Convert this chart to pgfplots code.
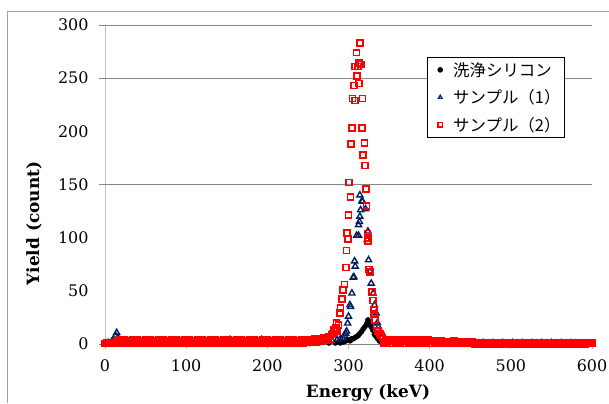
\documentclass[border=0pt]{standalone}
\usepackage{pgfplots}
\pgfplotsset{compat=1.18}
\usepackage{fontspec}
\setmainfont{DejaVu Serif}
\newfontfamily\cjk{Noto Sans CJK JP}
\definecolor{navy}{RGB}{0,32,96}
\definecolor{gridcol}{RGB}{134,134,134}
\definecolor{axiscol}{RGB}{190,190,190}
\definecolor{framecol}{RGB}{160,160,160}
\begin{document}
\begin{tikzpicture}
\begin{axis}[
  scale only axis, width=487bp, height=319bp,
  xmin=0, xmax=600, ymin=0, ymax=300,
  axis x line*=bottom, axis y line*=left,
  axis line style={axiscol, line width=0.8bp},
  xtick={0,100,...,600}, ytick={0,50,...,300},
  tick align=outside, major tick length=5bp,
  xtick style={axiscol, line width=0.8bp},
  ytick style={draw=none},
  extra y ticks={0,150,250,300}, extra y tick labels={},
  extra y tick style={grid=major, major grid style={gridcol, line width=1bp},
    ytick style={draw=gridcol, line width=1bp}, major tick length=6bp},
  /pgf/number format/assume math mode=true,
  tick label style={font=\fontsize{16}{19}\selectfont},
  xticklabel style={yshift=-7bp},
  yticklabel style={xshift=-8bp},
  xlabel={\bfseries Energy (keV)},
  ylabel={\bfseries Yield (count)},
  label style={font=\fontsize{17}{20}\selectfont},
  xlabel style={at={(axis description cs:0.54,-0.169)}, anchor=base},
  ylabel style={at={(axis description cs:-0.146,0.378)}, anchor=center},
  legend style={at={(axis description cs:0.661,0.900)}, anchor=north west,
    draw=black, line width=0.6bp, fill=white,
    font=\cjk\fontsize{16.5}{20}\selectfont, row sep=8bp,
    inner xsep=2bp, inner ysep=3bp, cells={anchor=west}},
  legend image code/.code={\path[draw=none, fill=none] (0bp,-4bp) rectangle (22bp,4bp);
    \draw[#1, mark size=2.2pt, line width=1.2bp] plot coordinates {(11bp,0bp)};},
]
\coordinate (sw) at (rel axis cs:0,0);
\coordinate (nw) at (rel axis cs:0,1);
\coordinate (ne) at (rel axis cs:1,1);

% cleaned silicon
\addplot[only marks, mark=*, mark size=2.6pt, black] coordinates {
(0,0)(12,1)(24,1)(36,0.5)(48,1)(60,1)(72,0.5)(84,1)(96,1)(108,0.5)(120,1)(132,1)
(144,0.5)(156,1)(168,1)(180,0.5)(192,1)(204,1)(216,0.5)(228,1)(240,1)(252,0.5)
(264,1)(276,1)(284,1)
(290,1)(294,2)(297,3)(300,4)(302,3)(304,5)(306,5)(308,6)(310,7)(312,8)(314,10)
(316,11.6)(318,14)(320,16)(322,18)(323,20)(324,22.6)(325,21)(326,19)(327,18)
(328,16)(330,13)(332,9)(334,7)(336,5)(338,3)(340,2)
(348,1)(360,1)(372,0.5)(384,1)(396,1)(408,0.5)(420,1)(432,1)(444,0.5)(456,1)
(468,1)(480,0.5)(492,1)(504,0.5)(516,1)(528,0.5)(540,1)(552,0.5)(564,1)(576,0.5)
(588,1)(600,0.5)
};
\addlegendentry{洗浄シリコン}

% sample 1
\addplot[only marks, mark=triangle, mark size=3.5pt, navy, line width=1.4bp] coordinates {
(0,0.5)(4,1)(8,2)(11,4)(13,8)(14.4,10.6)(16,6)(18,3)(24,2)(30,3)(36,2)(42,3)
(48,2)(54,3)(60,2)(66,3)(72,2)(78,3)(84,2)(90,3)(96,2)(102,3)(108,2)
(114,3)(120,2)(126,3)(132,2)(138,3)(144,2)(150,3)(154,4)(156,3)(162,2)(168,3)
(174,2)(180,3)(186,2)(193,4)(198,2)(204,3)(210,2)(216,3)(222,2)(228,3)(234,2)
(240,3)(246,2)(252,3)(258,2)(264,3)(270,2)(276,3)(280,3)
(286,4)(290,5)(293,6)(295,8)(296.5,10)(297.6,12)(299,19.5)(300,26)(301.7,36.7)
(302.6,35)(304.2,47.7)(305.8,62.7)(306.7,63)(307.5,78)(308.3,73)(310,102)
(312.4,102)(312.4,112)(313.5,115)(314,120)(314.9,126)(314,140)(316.5,134.5)
(317.3,134)(321,127)(323,98)(323.9,106)(324.7,79)(326.4,68)(328,57)(330.4,47.7)
(332,36.7)(334,29)(335.5,20)(337,16)(338.7,10)(341,6)(344,4)(348,3)
(352,2)(358,2)(364,2)(370,2)(376,2)(382,2)(388,2)(394,2)(400,2)(406,2)(412,1)
(418,1)(424,1)(430,1)(436,1)(442,1)(448,1)(454,1)(460,0.5)(466,1)(472,0.5)(478,1)
(484,0.5)(490,1)(496,0.5)(502,1)(508,0.5)(514,1)(520,0.5)(526,1)(532,0.5)(538,1)
(544,0.5)(550,1)(556,0.5)(562,1)(568,0.5)(574,1)(580,0.5)(586,0.5)(592,0.5)(598,0.5)
};
\addlegendentry{サンプル（1）}

% sample 2
\addplot[only marks, mark=square, mark size=3pt, red, line width=1.7bp] coordinates {
(0,0.5)(2,1)(4,0.5)(6,1.5)(8,0.5)(10,1)
(12,1)(14,3)(16,2)(18,4)(20,0.5)(22,2.5)(24,3.5)(26,1.5)
(28,1)(30,3)(32,2)(34,4)(36,0.5)(38,2.5)(40,3.5)(42,1.5)
(44,1)(46,3)(48,2)(50,4)(52,0.5)(54,2.5)(56,3.5)(58,1.5)
(60,1)(62,3)(64,2)(66,4)(68,0.5)(70,2.5)(72,3.5)(74,1.5)
(76,1)(78,3)(80,2)(82,4)(84,0.5)(86,2.5)(88,3.5)(90,1.5)
(92,1)(94,3)(96,2)(98,4)(100,0.5)(102,2.5)(104,3.5)(106,1.5)
(108,1)(110,3)(112,2)(114,4)(116,0.5)(118,2.5)(120,3.5)(122,1.5)
(124,1)(126,3)(128,2)(130,4)(132,0.5)(134,2.5)(136,3.5)(138,1.5)
(140,1)(142,3)(144,2)(146,4)(148,0.5)(150,2.5)(152,3.5)(154,1.5)
(156,1)(158,3)(160,2)(162,4)(164,0.5)(166,2.5)(168,3.5)(170,1.5)
(172,1)(174,3)(176,2)(178,4)(180,0.5)(182,2.5)(184,3.5)(186,1.5)
(188,1)(190,3)(192,2)(194,4)(196,0.5)(198,2.5)(200,3.5)(202,1.5)
(204,1)(206,3)(208,2)(210,4)(212,0.5)(214,2.5)(216,3.5)(218,1.5)
(220,1)(222,3)(224,2)(226,4)(228,0.5)(230,2.5)(232,3.5)(234,1.5)
(236,1)(238,3)(240,2)(242,4)(244,0.5)(246,2.5)(248,3.5)(250,1.5)
(252,2)(254,4)(256,3)(258,5)(260,2)(262,4)(264,5)(266,3)(268,5)(270,6)(272,4)
(274,6)(276,7)(278,5)(280,9)(281,10)(282,13)(283,12)(284,15)(286,12)
(285.3,19.5)(287.8,17.6)(289.4,29)(290.3,34)(291.9,42.6)(293.5,51)(295.2,56)
(296.8,72)(297.6,88)(298.4,104.7)(299.3,99)(300.1,121.6)(300.9,152)(302.6,138)
(303.3,188)(304.6,203)(305,231)(306.7,243)(308.3,229)(308.3,261)(310,274)
(310.7,252)(311.6,261)(313.2,264)(313.2,245)(314.4,283)(315.6,263)(316.5,203)
(317.4,231)(318,178)(319.8,189)(320.6,168)(321.4,146)(322.3,130)(323.5,104)
(324,100)(324.3,97)(325,70)(326.4,68)(328.8,49)(330.4,41)(331.3,32)(331,28)
(332.9,22.6)(334.6,14.7)(336,12)(338.7,10)(340,8)(342,6)
(344,1)(346,3)(348,2)(350,4)(352,0.5)(354,2.5)(356,3.5)(358,1.5)
(360,1)(362,3)(364,2)(366,4)(368,0.5)(370,2.5)(372,3.5)(374,1.5)
(376,1)(378,3)(380,2)(382,4)(384,0.5)(386,2.5)(388,3.5)(390,1.5)
(392,1)(394,3)(396,2)(398,3.5)(400,0.5)(402,2.5)(404,3)(406,1.5)
(408,0.5)(410,2)(412,1)(414,3)(416,0.5)(418,1.5)(420,2.5)(422,1)
(424,0.5)(426,2)(428,1)(430,3)(432,0.5)(434,1.5)(436,2.5)(438,1)
(440,0.5)(442,2)(444,1)(446,2.5)(448,0.5)(450,1.5)(452,2)(454,1)
(456,0.3)(458,1)(460,0.6)(462,1.2)(464,0.3)(466,0.8)(468,1)(470,0.5)
(472,0.3)(474,1)(476,0.6)(478,1.2)(480,0.3)(482,0.8)(484,1)(486,0.5)
(488,0.3)(490,1)(492,0.6)(494,1.2)(496,0.3)(498,0.8)(500,1)(502,0.5)
(504,0.3)(506,1)(508,0.6)(510,1.2)(512,0.3)(514,0.8)(516,1)(518,0.5)
(520,0.3)(522,1)(524,0.6)(526,1.2)(528,0.3)(530,0.8)(532,1)(534,0.5)
(536,0.3)(538,1)(540,0.6)(542,1.2)(544,0.3)(546,0.8)(548,1)(550,0.5)
(552,0.3)(554,1)(556,0.6)(558,1.2)(560,0.3)(562,0.8)(564,1)(566,0.5)
(568,0.3)(570,1)(572,0.6)(574,1.2)(576,0.3)(578,0.8)(580,1)(582,0.5)
(584,0.3)(586,1)(588,0.6)(590,1.2)(592,0.3)(594,0.8)(596,1)(598,0.5)(600,0.8)
};
\addlegendentry{サンプル（2）}
\end{axis}
\draw[framecol, line width=1bp] ([xshift=-97bp,yshift=-59bp]sw) -- ([xshift=-97bp,yshift=14bp]nw) -- ([xshift=17bp,yshift=14bp]ne);
\pgfresetboundingbox
\path[use as bounding box] ([xshift=-105bp,yshift=-59bp]sw) rectangle ([xshift=17bp,yshift=25bp]ne);
\end{tikzpicture}
\end{document}
